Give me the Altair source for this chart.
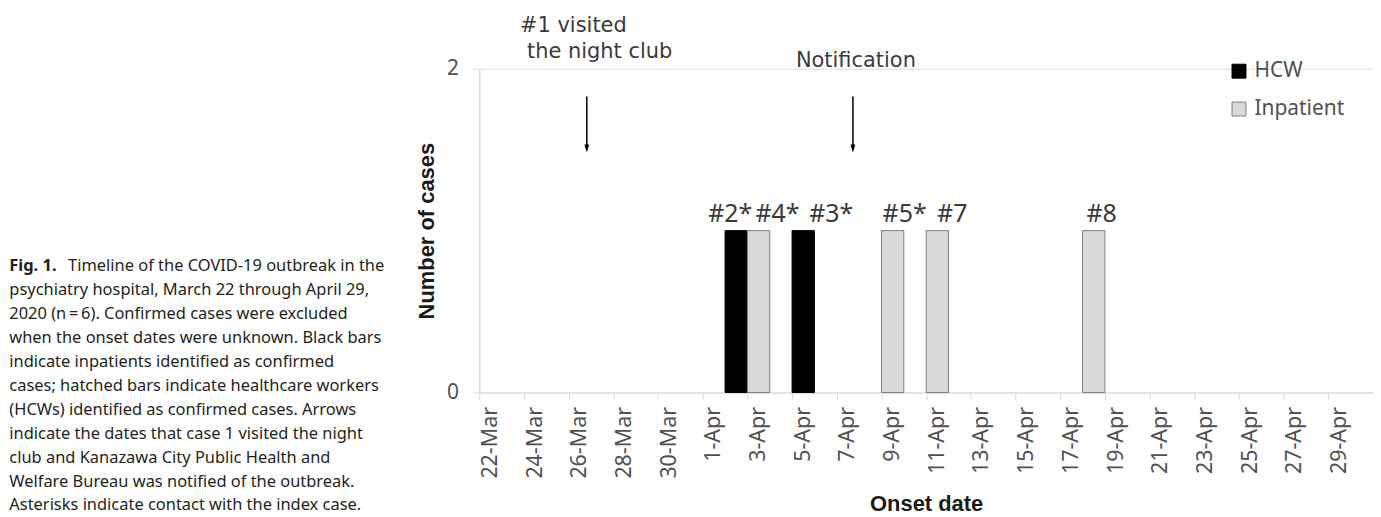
import json
import altair as alt
import pandas as pd

# ---------------- data ----------------
axis_first_day = "2020-03-22"     # first category on the onset-date axis
axis_day_count = 40               # 22-Mar ... 30-Apr
tick_labels = ["22-Mar", "24-Mar", "26-Mar", "28-Mar", "30-Mar", "1-Apr", "3-Apr",
               "5-Apr", "7-Apr", "9-Apr", "11-Apr", "13-Apr", "15-Apr", "17-Apr",
               "19-Apr", "21-Apr", "23-Apr", "25-Apr", "27-Apr", "29-Apr"]

onset_dates = ["2020-04-02", "2020-04-03", "2020-04-05", "2020-04-09", "2020-04-11", "2020-04-18"]
case_groups = ["HCW", "Inpatient", "HCW", "Inpatient", "Inpatient", "Inpatient"]
case_counts = [1, 1, 1, 1, 1, 1]
case_labels = ["#2*", "#4*", "#3*", "#5*", "#7", "#8"]
group_names = ["HCW", "Inpatient"]

event_dates = ["2020-03-26", "2020-04-07"]
event_lines = [["#1 visited", "the night club"], ["Notification"]]

y_ticks = [0, 1, 2]

caption_head = "Fig. 1."
caption_lines = [
    "Timeline of the COVID-19 outbreak in the",
    "psychiatry hospital, March 22 through April 29,",
    "2020 (n\u2009=\u20096). Confirmed cases were excluded",
    "when the onset dates were unknown. Black bars",
    "indicate inpatients identified as confirmed",
    "cases; hatched bars indicate healthcare workers",
    "(HCWs) identified as confirmed cases. Arrows",
    "indicate the dates that case 1 visited the night",
    "club and Kanazawa City Public Health and",
    "Welfare Bureau was notified of the outbreak.",
    "Asterisks indicate contact with the index case.",
]

# ---------------- helpers ----------------
DAY = 86400000
def ms(d):
    return int(pd.Timestamp(d, tz="UTC").value // 10**6)

t0 = ms(axis_first_day)
x_domain = [t0, t0 + axis_day_count * DAY]
tick_values = [t0 + 2 * i * DAY for i in range(axis_day_count // 2 + 1)]

# plot geometry / style
W, H = 897, 325
half_day_px = W / axis_day_count / 2
TEXT_FONT = "Noto Sans"
NOTE_FONT = "DejaVu Sans"
TITLE_FONT = "Liberation Sans"
AXIS_GREY = "#d9d9d9"
LABEL_GREY = "#505050"
ANNOT = "#3a3a3a"

label_expr = "(%s)[round((datum.value - %d) / %d)] || ''" % (json.dumps(tick_labels), t0, 2 * DAY)

xscale = alt.Scale(type="utc", domain=x_domain, nice=False)
xaxis = alt.Axis(values=tick_values, labelExpr=label_expr, labelAngle=270,
                 labelOffset=half_day_px, labelPadding=7, tickSize=7,
                 tickColor=AXIS_GREY, domainColor=AXIS_GREY, grid=False,
                 labelFont=TEXT_FONT, labelFontSize=21.5, labelColor=LABEL_GREY,
                 labelFlush=False, labelOverlap=False,
                 titleFont=TITLE_FONT, titleFontSize=22, titleFontWeight="bold",
                 titleColor="#1a1a1a", titleY=118, titleBaseline="alphabetic")
yscale = alt.Scale(domain=[0, 2], nice=False)
yaxis = alt.Axis(values=y_ticks, format="d", tickSize=7, labelPadding=14,
                 tickColor=AXIS_GREY, domainColor=AXIS_GREY, grid=False,
                 labelFont=TEXT_FONT, labelFontSize=21, labelColor=LABEL_GREY,
                 titleFont=TITLE_FONT, titleFontSize=22, titleFontWeight="bold",
                 titleColor="#1a1a1a", titleX=-46, titleBaseline="alphabetic")

def X(field):
    return alt.X(field + ":T", scale=xscale, axis=xaxis, title="Onset date")

def Y(field):
    return alt.Y(field + ":Q", scale=yscale, axis=yaxis, title="Number of cases")

cases = pd.DataFrame({
    "start": [ms(d) for d in onset_dates],
    "group": case_groups,
    "count": case_counts,
    "label": case_labels,
})
cases["end"] = cases["start"] + DAY

legend = alt.Legend(orient="none", legendX=752, legendY=-8, title=None,
                    symbolType="square", symbolSize=196, symbolStrokeWidth=1,
                    labelFont=TEXT_FONT, labelFontSize=21, labelColor=LABEL_GREY,
                    labelOffset=5, rowPadding=16, padding=0)

bars = alt.Chart(cases).mark_bar(strokeWidth=1).encode(
    x=X("start"), x2="end", y=Y("count"), y2=alt.datum(0),
    fill=alt.Fill("group:N", scale=alt.Scale(domain=group_names, range=["#000000", "#d9d9d9"]),
                  legend=legend),
    stroke=alt.Stroke("group:N", scale=alt.Scale(domain=group_names, range=["#000000", "#7f7f7f"]),
                      legend=legend),
)

layers = [bars]

# case labels above the bars (horizontal nudges as in the original figure)
label_dx = [-6, 19, 28, 12, 15, 8]
for lab, dx in zip(case_labels, label_dx):
    layers.append(
        alt.Chart(cases).transform_filter(alt.datum.label == lab)
        .transform_calculate(mid="datum.start + %d" % (DAY // 2))
        .mark_text(dx=dx, dy=-9, baseline="alphabetic", font=TEXT_FONT,
                   fontSize=25, color=ANNOT)
        .encode(x=X("mid"), y=Y("count"), text="label:N")
    )

# arrows (with the small pixel nudges of the original drawing) and their notes
arrow_dx = [7, 5]
annot_style = [  # (dx from arrow, y, align) for each text line
    [(-67, -36.6, "left"), (-60, -11, "left")],
    [(3, -1.6, "center")],
]
for d, adx, lines, styles in zip(event_dates, arrow_dx, event_lines, annot_style):
    ev = alt.Chart(pd.DataFrame({"start": [ms(d)]})).transform_calculate(
        mid="datum.start + %d" % (DAY // 2))
    layers.append(ev.mark_rule(color="#000000", strokeWidth=1.5, xOffset=adx).encode(
        x=X("mid"), y=alt.value(28), y2=alt.value(77)))
    layers.append(ev.mark_point(shape="M-0.6,-1L0.6,-1L0,1Z", filled=True, size=64,
                                color="#000000", opacity=1, xOffset=adx).encode(
        x=X("mid"), y=alt.value(80)))
    for txt, (dx, yy, al) in zip(lines, styles):
        df = pd.DataFrame({"start": [ms(d)], "t": [txt]})
        layers.append(
            alt.Chart(df).transform_calculate(mid="datum.start + %d" % (DAY // 2))
            .mark_text(dx=dx + adx, align=al, baseline="alphabetic", font=NOTE_FONT,
                       fontSize=21, color=ANNOT)
            .encode(x=X("mid"), y=alt.value(yy), text="t:N")
        )

# figure caption on the left
CAP_X = -471.7
CAP_Y0 = 203.4
CAP_LH = 24
layers.append(
    alt.Chart(pd.DataFrame({"t": [caption_head]}))
    .mark_text(align="left", baseline="alphabetic", font=TEXT_FONT, fontSize=16.5,
               fontWeight="bold", color="#231f20")
    .encode(x=alt.value(CAP_X), y=alt.value(CAP_Y0), text="t:N")
)
for i, line in enumerate(caption_lines):
    xx = CAP_X + 59 if i == 0 else CAP_X
    layers.append(
        alt.Chart(pd.DataFrame({"t": [line]}))
        .mark_text(align="left", baseline="alphabetic", font=TEXT_FONT, fontSize=16.5,
                   color="#231f20")
        .encode(x=alt.value(xx), y=alt.value(CAP_Y0 + CAP_LH * i), text="t:N")
    )

chart = alt.layer(*layers).properties(
    width=W, height=H,
    autosize=alt.AutoSizeParams(type="none"),
    padding={"left": 473, "top": 60, "right": 0, "bottom": 122},
).configure_view(stroke=None).configure(background="white")

chart.save("out.html", embed_options={"renderer": "svg", "actions": False})
